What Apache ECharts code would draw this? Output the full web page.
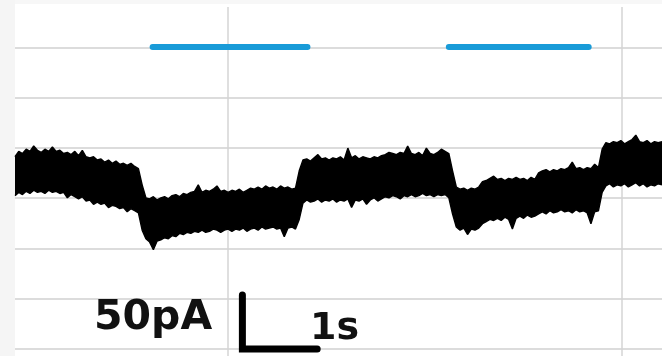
<!DOCTYPE html>
<html>
<head>
<meta charset="utf-8">
<script src="https://cdn.jsdelivr.net/npm/echarts@6/dist/echarts.min.js"></script>
<style>
  html, body { margin: 0; padding: 0; background: #fff; }
  #chart { width: 662px; height: 356px; }
</style>
</head>
<body>
<div id="chart"></div>
<script>
const sampleStep = 0.05

// upper and lower edge of the noisy whole-cell current (pA), one value per sample
const traceUpper = [
  178, 183, 181, 185, 183, 188, 184, 182, 185, 183, 187, 183, 184, 181, 182, 180, 183, 179, 184, 178,
  177, 178, 175, 176, 173, 175, 172, 174, 171, 172, 170, 172, 169, 167, 152, 140, 139, 141, 138, 140,
  141, 139, 142, 143, 141, 144, 143, 145, 146, 152, 145, 147, 146, 148, 151, 146, 147, 145, 147, 146,
  148, 145, 147, 149, 148, 150, 148, 151, 149, 150, 148, 151, 149, 150, 148, 149, 165, 175, 176, 174,
  177, 180, 176, 177, 175, 177, 176, 178, 175, 186, 177, 179, 176, 178, 177, 176, 178, 177, 179, 180,
  182, 181, 180, 182, 181, 188, 181, 180, 182, 179, 186, 181, 180, 182, 185, 183, 181, 165, 150, 148,
  149, 147, 149, 148, 150, 155, 156, 158, 160, 157, 158, 156, 158, 157, 159, 157, 158, 156, 159, 157,
  163, 165, 166, 164, 166, 165, 167, 166, 168, 173, 167, 168, 166, 168, 167, 171, 168, 185, 191, 190,
  192, 191, 193, 190, 192, 194, 198, 192, 191, 193, 190, 192, 191, 192
]
const traceLower = [
  142, 145, 143, 146, 144, 147, 145, 146, 144, 147, 145, 146, 144, 145, 140, 143, 141, 139, 141, 137,
  138, 134, 136, 134, 135, 131, 133, 132, 130, 131, 127, 130, 128, 126, 110, 102, 99, 92, 100, 101,
  103, 102, 105, 104, 107, 106, 108, 107, 109, 108, 110, 108, 109, 111, 110, 108, 110, 111, 109, 111,
  110, 112, 109, 111, 112, 110, 113, 111, 112, 113, 111, 112, 104, 112, 113, 111, 120, 135, 138, 136,
  137, 139, 136, 138, 137, 139, 136, 138, 137, 139, 131, 138, 137, 139, 134, 138, 140, 137, 139, 141,
  140, 142, 141, 139, 142, 141, 143, 141, 142, 144, 142, 143, 141, 143, 142, 143, 140, 125, 113, 110,
  112, 106, 111, 110, 112, 116, 118, 120, 119, 121, 119, 122, 120, 111, 121, 123, 121, 124, 122, 123,
  125, 127, 125, 128, 126, 127, 129, 127, 128, 126, 129, 127, 128, 126, 116, 127, 128, 145, 151, 153,
  150, 152, 151, 153, 150, 152, 154, 151, 153, 150, 152, 151, 153, 152
]

// application periods (s) shown as blue bars
const stimStart = [1.84, 5.80]
const stimEnd = [3.91, 7.67]
const stimLevel = 280 // pA, height the bars are drawn at

// scale bar
const scaleBarAt = 3.04      // s
const scaleBarTime = 1       // s
const scaleBarCurrent = 50   // pA
const scaleBarLabels = ['50pA', '1s']

const times = traceUpper.map((_, i) => (i * sampleStep).toFixed(2))
const bandWidth = traceUpper.map((v, i) => v - traceLower[i])
const tEnd = (traceUpper.length - 1) * sampleStep

const chart = echarts.init(document.getElementById('chart'))

const hidden = { show: false }

chart.setOption({
  animation: false,
  backgroundColor: '#fff',
  grid: [
    { left: 15, right: 0, top: 0, bottom: 7 },
    { left: 228, right: 40, top: 7, bottom: 0 }
  ],
  xAxis: [
    // sample axis for the stacked trace band
    { type: 'category', gridIndex: 0, data: times, boundaryGap: false, show: false },
    // vertical grid lines
    {
      type: 'value', gridIndex: 1, min: 0, max: 1, interval: 1,
      axisLine: hidden, axisTick: hidden, axisLabel: hidden,
      splitLine: { show: true, lineStyle: { color: '#d4d4d4', width: 1.5 } }
    },
    // time axis (s) for bars and scale bar
    { type: 'value', gridIndex: 0, min: 0, max: tEnd, show: false }
  ],
  yAxis: [
    { type: 'value', gridIndex: 0, min: 0, max: 323.15, show: false },
    {
      type: 'value', gridIndex: 0, min: 0, max: 6.945, interval: 1,
      axisLine: hidden, axisTick: hidden, axisLabel: hidden,
      splitLine: { show: true, showMaxLine: false, lineStyle: { color: '#dcdcdc', width: 2 } }
    },
    { type: 'value', gridIndex: 1, show: false }
  ],
  graphic: [
    { type: 'rect', shape: { x: 0, y: 0, width: 15, height: 356 }, style: { fill: '#f5f5f5' }, z: 0 },
    { type: 'rect', shape: { x: 15, y: 0, width: 647, height: 4 }, style: { fill: '#f7f7f7' }, z: 0 },
    {
      type: 'text', x: 94, y: 298, z: 10,
      style: { text: scaleBarLabels[0], fill: '#111', font: 'bold 41px "DejaVu Sans"', verticalAlign: 'top' }
    },
    {
      type: 'text', x: 310, y: 310, z: 10,
      style: { text: scaleBarLabels[1], fill: '#111', font: 'bold 38px "DejaVu Sans"', verticalAlign: 'top' }
    }
  ],
  series: [
    {
      type: 'line', xAxisIndex: 0, yAxisIndex: 0, stack: 'trace',
      data: traceLower, symbol: 'none',
      lineStyle: { color: '#000', width: 1.4 }
    },
    {
      type: 'line', xAxisIndex: 0, yAxisIndex: 0, stack: 'trace',
      data: bandWidth, symbol: 'none',
      lineStyle: { color: '#000', width: 1.4 },
      areaStyle: { color: '#000', opacity: 1 }
    },
    {
      type: 'lines', coordinateSystem: 'cartesian2d', xAxisIndex: 2, yAxisIndex: 0,
      data: stimStart.map((s, i) => ({ coords: [[s, stimLevel], [stimEnd[i], stimLevel]] })),
      lineStyle: { color: '#199bd8', width: 6, cap: 'round', opacity: 1 }
    },
    {
      type: 'line', xAxisIndex: 2, yAxisIndex: 0, clip: false, symbol: 'none',
      data: [
        [scaleBarAt, scaleBarCurrent],
        [scaleBarAt, 0],
        [scaleBarAt + scaleBarTime, 0]
      ],
      lineStyle: { color: '#000', width: 7, cap: 'round', join: 'miter' }
    }
  ]
})
</script>
</body>
</html>
